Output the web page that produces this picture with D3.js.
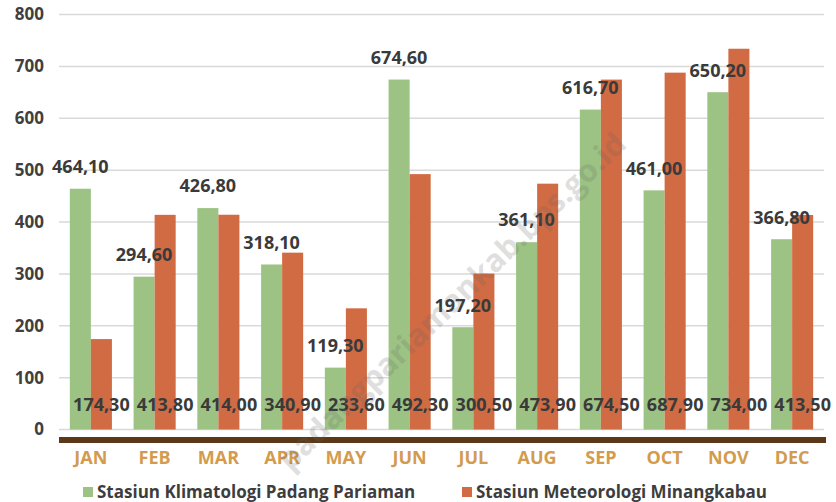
<!DOCTYPE html>
<html>
<head>
<meta charset="utf-8">
<script src="https://cdn.jsdelivr.net/npm/d3@7"></script>
<style>
  html, body { margin: 0; padding: 0; background: #fff; }
  text { font-family: "Open Sans", "Noto Sans", sans-serif; font-weight: bold; }
</style>
</head>
<body>
<div id="chart"></div>
<script>
// monthly rainfall (mm), two stations
const months = ['JAN','FEB','MAR','APR','MAY','JUN','JUL','AUG','SEP','OCT','NOV','DEC'];
const klimatologi = [464.1, 294.6, 426.8, 318.1, 119.3, 674.6, 197.2, 361.1, 616.7, 461.0, 650.2, 366.8];
const meteorologi = [174.3, 413.8, 414.0, 340.9, 233.6, 492.3, 300.5, 473.9, 674.5, 687.9, 734.0, 413.5];
const seriesNames = ['Stasiun Klimatologi Padang Pariaman', 'Stasiun Meteorologi Minangkabau'];
const yTicks = [0, 100, 200, 300, 400, 500, 600, 700, 800];

const width = 836, height = 502;
const green = '#9cc383', orange = '#d16b43';

const svg = d3.select('#chart')
    .append('svg')
    .attr('width', width)
    .attr('height', height);

const x0 = d3.scaleBand()
    .domain(months)
    .range([59, 824])
    .paddingInner(0.34)
    .paddingOuter(0.17);

const x1 = d3.scaleBand()
    .domain([0, 1])
    .range([0, x0.bandwidth()]);

const y = d3.scaleLinear()
    .domain([0, 800])
    .range([429.5, 14.5]);

// gridlines + y labels
svg.selectAll('line.grid')
  .data(yTicks)
  .enter()
  .append('line')
    .attr('class', 'grid')
    .attr('x1', 59)
    .attr('x2', 824)
    .attr('y1', d => y(d))
    .attr('y2', d => y(d))
    .attr('stroke', '#d9d9d9')
    .attr('stroke-width', 1.5);

svg.selectAll('text.ylab')
  .data(yTicks)
  .enter()
  .append('text')
    .attr('class', 'ylab')
    .attr('x', 44)
    .attr('y', d => y(d))
    .attr('dy', '0.35em')
    .attr('text-anchor', 'end')
    .attr('font-size', 17)
    .attr('fill', '#3f3f3f')
    .text(d => d);

const rows = months.map((m, i) => ({ m: m, vals: [klimatologi[i], meteorologi[i]] }));

const groups = svg.selectAll('g.month')
  .data(rows)
  .enter()
  .append('g')
    .attr('class', 'month')
    .attr('transform', d => 'translate(' + x0(d.m) + ',0)');

groups.selectAll('rect')
  .data(d => d.vals)
  .enter()
  .append('rect')
    .attr('x', (d, i) => x1(i))
    .attr('width', x1.bandwidth())
    .attr('y', d => y(d))
    .attr('height', d => y(0) - y(d))
    .attr('fill', (d, i) => i === 0 ? green : orange);

const fmt = v => v.toFixed(2).replace('.', ',');

// green values sit above their bar, orange ones along the base
groups.append('text')
    .attr('x', x1(0) + x1.bandwidth() / 2)
    .attr('y', d => y(d.vals[0]) - 22)
    .attr('dy', '0.35em')
    .attr('text-anchor', 'middle')
    .attr('font-size', 18)
    .attr('fill', '#3a3a3a')
    .text(d => fmt(d.vals[0]));

groups.append('text')
    .attr('x', x1(1) + x1.bandwidth() / 2)
    .attr('y', y(0) - 24.5)
    .attr('dy', '0.35em')
    .attr('text-anchor', 'middle')
    .attr('font-size', 18)
    .attr('fill', '#3a3a3a')
    .text(d => fmt(d.vals[1]));

// thick brown base line
svg.append('rect')
    .attr('x', 59)
    .attr('y', 437)
    .attr('width', 767)
    .attr('height', 6)
    .attr('fill', '#5b3817');

svg.selectAll('text.xlab')
  .data(months)
  .enter()
  .append('text')
    .attr('class', 'xlab')
    .attr('x', d => x0(d) + x0.bandwidth() / 2)
    .attr('y', 458)
    .attr('dy', '0.35em')
    .attr('text-anchor', 'middle')
    .attr('font-size', 18)
    .attr('fill', '#d39b4e')
    .text(d => d);

// legend
const legendX = [83, 462];
const legend = svg.selectAll('g.legend')
  .data(seriesNames)
  .enter()
  .append('g')
    .attr('class', 'legend')
    .attr('transform', (d, i) => 'translate(' + legendX[i] + ',487)');

legend.append('rect')
    .attr('width', 10)
    .attr('height', 10)
    .attr('fill', (d, i) => i === 0 ? green : orange);

legend.append('text')
    .attr('x', 14)
    .attr('y', 5)
    .attr('dy', '0.35em')
    .attr('font-size', 17)
    .attr('fill', '#3d3d3d')
    .text(d => d);

// faint diagonal watermark
svg.append('text')
    .attr('transform', 'translate(628,146) rotate(-44)')
    .attr('text-anchor', 'end')
    .attr('font-size', 31)
    .attr('fill', '#666')
    .attr('opacity', 0.2)
    .text('padangpariamankab.bps.go.id');
</script>
</body>
</html>
